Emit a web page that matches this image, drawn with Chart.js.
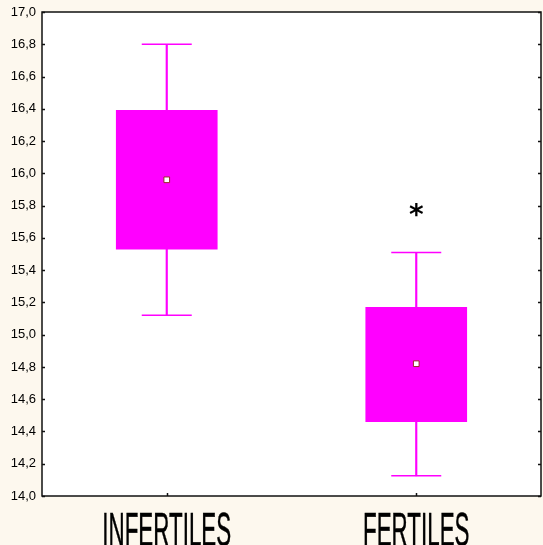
<!DOCTYPE html>
<html>
<head>
<meta charset="utf-8">
<script src="https://cdn.jsdelivr.net/npm/chart.js@4"></script>
<style>
  html, body { margin: 0; padding: 0; background: #fdf8ee; }
  #wrap { width: 543px; height: 545px; }
</style>
</head>
<body>
<div id="wrap"><canvas id="c" width="543" height="545"></canvas></div>
<script>
// Groups and box-plot statistics
const categories = ['INFERTILES', 'FERTILES'];
const whiskerLow = [15.12, 14.125];
const whiskerHigh = [16.8, 15.51];
const boxLow = [15.53, 14.46];
const boxHigh = [16.39, 15.17];
const means = [15.96, 14.82];
const outliers = [null, 15.77];   // values flagged with an asterisk
const yMin = 14.0, yMax = 17.0, yStep = 0.2;

const MAGENTA = '#ff00ff';
const FONT = "'Liberation Sans', Arial, sans-serif";

const fmt = v => Number(v).toFixed(1).replace('.', ',');

// Paper background, white plot area, frame, inward tick marks,
// condensed group labels and asterisks
const decor = {
  id: 'decor',
  beforeDraw(chart) {
    const { ctx, chartArea: a } = chart;
    ctx.save();
    ctx.fillStyle = '#fdf8ee';
    ctx.fillRect(0, 0, chart.width, chart.height);
    ctx.fillStyle = '#ffffff';
    ctx.fillRect(a.left, a.top, a.right - a.left, a.bottom - a.top);
    ctx.restore();
  },
  afterDraw(chart) {
    const { ctx, chartArea: a, scales } = chart;
    const y = scales.y, x = scales.x;
    ctx.save();
    ctx.strokeStyle = '#111';
    ctx.lineWidth = 1.5;
    ctx.strokeRect(a.left, a.top, a.right - a.left, a.bottom - a.top);
    y.ticks.forEach((t, i) => {
      const py = Math.round(y.getPixelForTick(i)) + 0.5;
      ctx.beginPath();
      ctx.moveTo(a.left, py); ctx.lineTo(a.left + 3, py);
      ctx.moveTo(a.right, py); ctx.lineTo(a.right - 3, py);
      ctx.stroke();
    });
    x.ticks.forEach((t, i) => {
      const px = Math.round(x.getPixelForTick(i)) + 0.5;
      ctx.beginPath();
      ctx.moveTo(px, a.bottom); ctx.lineTo(px, a.bottom - 3);
      ctx.stroke();
    });

    // tall, condensed group labels under the plot
    ctx.fillStyle = '#000';
    ctx.strokeStyle = '#000';
    ctx.lineWidth = 0.5;
    ctx.font = "48px " + FONT;
    ctx.textAlign = 'center';
    ctx.textBaseline = 'alphabetic';
    categories.forEach((c, i) => {
      const px = x.getPixelForValue(i);
      const m = ctx.measureText(c);
      ctx.save();
      ctx.translate(px, a.bottom + 16 + m.actualBoundingBoxAscent);
      ctx.scale(0.466, 1);
      ctx.fillText(c, 0, 0);
      ctx.strokeText(c, 0, 0);
      ctx.restore();
    });

    // asterisks marking outlying observations
    ctx.font = "bold 28px 'DejaVu Sans', sans-serif";
    outliers.forEach((v, i) => {
      if (v === null) return;
      const px = x.getPixelForValue(i);
      const py = y.getPixelForValue(v);
      const m = ctx.measureText('*');
      const off = (m.actualBoundingBoxAscent - m.actualBoundingBoxDescent) / 2;
      ctx.fillText('*', px, py + off);
    });
    ctx.restore();
  }
};

new Chart(document.getElementById('c'), {
  type: 'bar',
  data: {
    labels: categories,
    datasets: [
      {
        label: 'stem',
        data: categories.map((_, i) => [whiskerLow[i], whiskerHigh[i]]),
        backgroundColor: MAGENTA,
        borderWidth: 0,
        barThickness: 1.5,
        grouped: false,
        order: 4
      },
      {
        label: 'box',
        data: categories.map((_, i) => [boxLow[i], boxHigh[i]]),
        backgroundColor: MAGENTA,
        borderWidth: 0,
        barThickness: 101,
        grouped: false,
        order: 3
      },
      {
        type: 'line',
        label: 'max',
        data: whiskerHigh,
        showLine: false,
        pointStyle: 'line',
        pointRadius: 25,
        pointHoverRadius: 25,
        borderColor: MAGENTA,
        pointBorderWidth: 1.5,
        order: 2
      },
      {
        type: 'line',
        label: 'min',
        data: whiskerLow,
        showLine: false,
        pointStyle: 'line',
        pointRadius: 25,
        pointHoverRadius: 25,
        borderColor: MAGENTA,
        pointBorderWidth: 1.5,
        order: 2
      },
      {
        type: 'line',
        label: 'mean',
        data: means,
        showLine: false,
        pointStyle: 'rect',
        pointRadius: 4,
        pointBackgroundColor: '#ffffff',
        pointBorderColor: '#9b2a2a',
        pointBorderWidth: 1,
        order: 1
      }
    ]
  },
  options: {
    responsive: false,
    animation: false,
    events: [],
    layout: { autoPadding: false, padding: { top: 12, right: 2, left: 0, bottom: 0 } },
    plugins: { legend: { display: false }, tooltip: { enabled: false } },
    scales: {
      x: {
        offset: true,
        grid: { display: false, drawTicks: false },
        border: { display: false },
        ticks: { display: false },
        afterFit(s) {
          s.height = 49;
          s.paddingLeft = 0; s.paddingRight = 0;
        }
      },
      y: {
        min: yMin,
        max: yMax,
        grid: { display: false, drawTicks: false },
        border: { display: false },
        ticks: {
          stepSize: yStep,
          color: '#000',
          padding: 6,
          font: { family: FONT, size: 13 },
          callback: v => fmt(v)
        },
        afterFit(s) {
          s.width = 42;
          s.paddingTop = 0; s.paddingBottom = 0;
        }
      }
    }
  },
  plugins: [decor]
});
</script>
</body>
</html>
